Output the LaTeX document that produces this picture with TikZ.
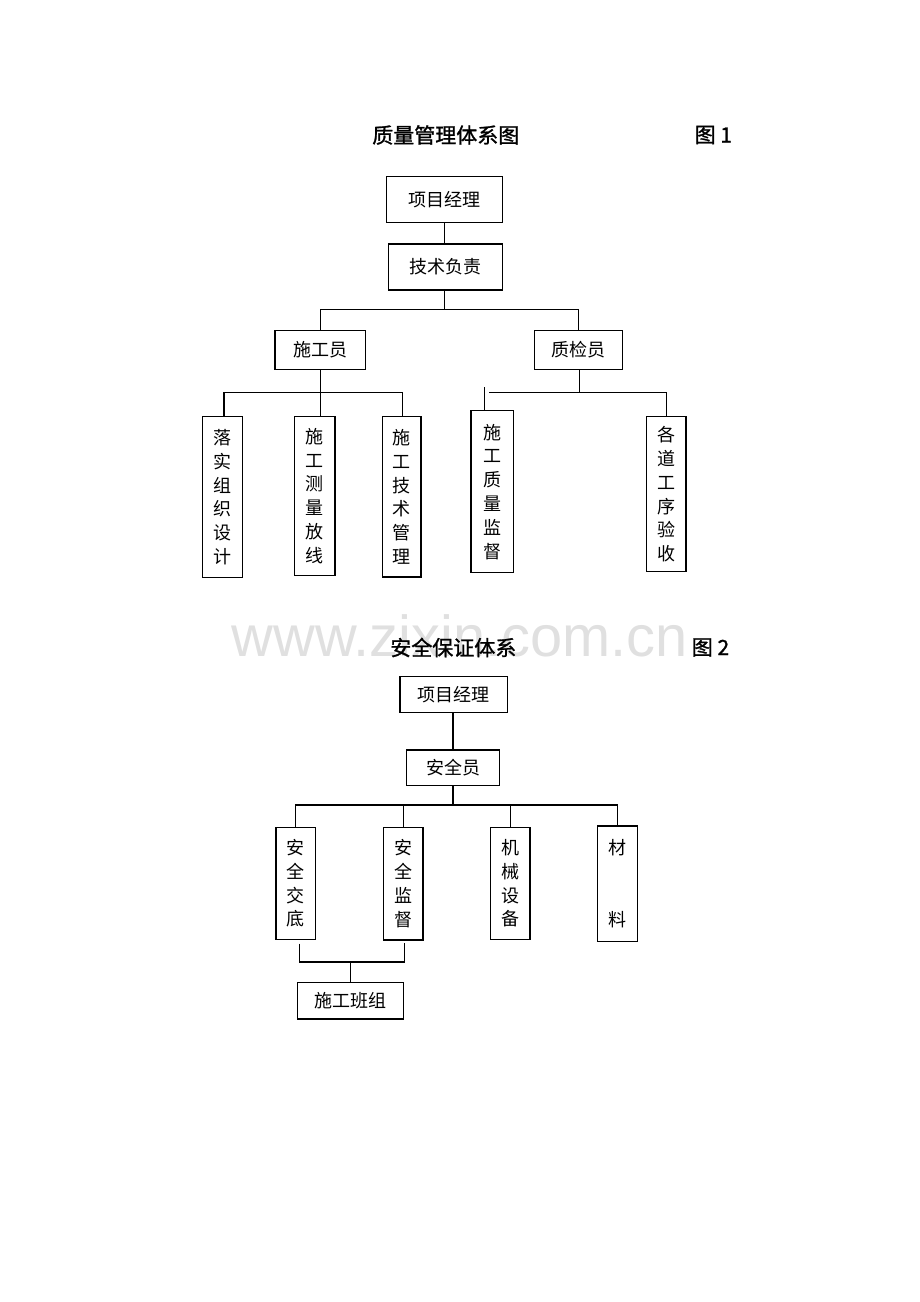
\documentclass[tikz,border=0pt]{standalone}
\usepackage{fontspec}
\newfontfamily\cjk{Noto Sans CJK SC}
\newfontfamily\cjkb[FakeBold=1.2]{Noto Sans CJK SC}
\newfontfamily\wmfont{Liberation Sans}
\begin{document}
\begin{tikzpicture}[x=1pt,y=-1pt,
  conn/.style={line width=1.2pt},
  box/.style={draw, line width=1.2pt, inner sep=0pt, font=\cjk\fontsize{18}{23.8}\selectfont},
  vbox/.style={box, align=center},
  ttl/.style={inner sep=0pt, font=\cjkb\fontsize{21}{25}\selectfont},
  wm/.style={inner sep=0pt, anchor=base west, text=black!12, font=\wmfont\fontsize{57.8}{60}\selectfont}]
\useasboundingbox (0,0) rectangle (920,1302);
% watermark
\node[wm] (wmark) at (231.7,656.7) {www.zixin.com.cn};
% ---------- Figure 1 ----------
\node[ttl] (t1) at (445.8,135) {质量管理体系图};
\node[ttl] (f1) at (713.3,135) {图 1};
\node[box, minimum width=115.6, minimum height=46] (pm1) at (444.5,199.7) {项目经理};
\node[box, minimum width=113.6, minimum height=46] (tech) at (445.5,267) {技术负责};
\node[box, minimum width=90.7, minimum height=38.6] (sg) at (320.3,350) {施工员};
\node[box, minimum width=88.4, minimum height=38.6] (zj) at (578.5,350) {质检员};
\node[vbox, minimum width=40.4, minimum height=161] (v1) at (222.5,497.2) {落\\实\\组\\织\\设\\计};
\node[vbox, minimum width=40.7, minimum height=158.6] (v2) at (314.7,496) {施\\工\\测\\量\\放\\线};
\node[vbox, minimum width=38.7, minimum height=160.3] (v3) at (401.7,496.9) {施\\工\\技\\术\\管\\理};
\node[vbox, minimum width=42.7, minimum height=162] (v4) at (492.3,491.7) {施\\工\\质\\量\\监\\督};
\node[vbox, minimum width=39.3, minimum height=155] (v5) at (666.3,494.2) {各\\道\\工\\序\\验\\收};
\coordinate (bus1) at (444.5,309.3);
\coordinate (bus2) at (320.3,392.7);
\coordinate (bus3) at (579.3,392.7);
\coordinate (gapend) at (489.3,392.7);
\draw[conn] (pm1.south) -- (pm1.south |- tech.north);
\draw[conn] (tech.south -| bus1) -- (bus1);
\draw[conn] (sg.north) |- (bus1) -| (zj.north);
\draw[conn] (sg.south) -- (sg.south |- v2.north);
\draw[conn] ([xshift=1.5pt]v1.north) |- (bus2) -| ([xshift=1pt]v3.north);
\draw[conn] (zj.south -| bus3) -- (bus3);
\draw[conn] (gapend) -- (bus3) -| (v5.north);
\draw[conn] ([xshift=-8pt]v4.north) -- ++(0,-23.4);
% ---------- Figure 2 ----------
\node[ttl] (t2) at (453.3,647.5) {安全保证体系};
\node[ttl] (f2) at (710.5,647.5) {图 2};
\node[box, minimum width=107.3, minimum height=35.6] (pm2) at (453.6,694.5) {项目经理};
\node[box, minimum width=92.6, minimum height=35.7] (aq) at (453,767.8) {安全员};
\node[vbox, minimum width=39.7, minimum height=112] (s1) at (295.8,883.3) {安\\全\\交\\底};
\node[vbox, minimum width=39.3, minimum height=112.7] (s2) at (403.3,883.7) {安\\全\\监\\督};
\node[vbox, minimum width=39.3, minimum height=112] (s3) at (510.3,883.3) {机\\械\\设\\备};
\node[vbox, minimum width=39.6, minimum height=115.7] (s4) at (617.5,883.8) {材\\[47.6pt]料};
\node[box, minimum width=106, minimum height=36.3] (bz) at (350.3,1000.8) {施工班组};
\coordinate (bus4) at (453,805);
\coordinate (j) at (351,962);
\draw[conn] (pm2.south -| aq.north) -- (aq.north);
\draw[conn] (aq.south) -- (bus4);
\draw[conn] (s1.north) |- (bus4) -| (s4.north);
\draw[conn] (s2.north) -- (s2.north |- bus4);
\draw[conn] (s3.north) -- (s3.north |- bus4);
\draw[conn] ([shift={(3.5,3.7)}]s1.south) |- (j) -| ([shift={(1,2.8)}]s2.south);
\draw[conn] (bz.north) -- (bz.north |- j);
\end{tikzpicture}
\end{document}
